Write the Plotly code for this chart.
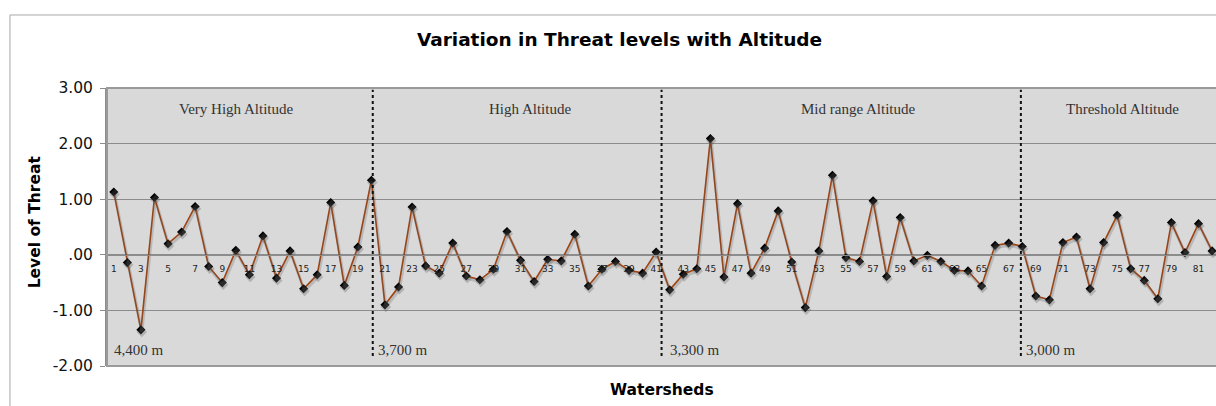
import plotly.graph_objects as go

watersheds = list(range(1, 83))
threat = [1.13, -0.14, -1.35, 1.03, 0.20, 0.41, 0.87, -0.21, -0.50, 0.08,
          -0.36, 0.34, -0.42, 0.07, -0.61, -0.36, 0.94, -0.55, 0.14, 1.34,
          -0.90, -0.58, 0.86, -0.20, -0.33, 0.21, -0.38, -0.45, -0.26, 0.42,
          -0.10, -0.48, -0.08, -0.11, 0.37, -0.56, -0.26, -0.12, -0.28, -0.33, 0.05,
          -0.63, -0.35, -0.25, 2.09, -0.40, 0.92, -0.33, 0.12, 0.79, -0.13,
          -0.95, 0.07, 1.43, -0.05, -0.12, 0.97, -0.39, 0.67, -0.11, -0.01,
          -0.12, -0.28, -0.29, -0.56, 0.17, 0.21, 0.15,
          -0.74, -0.81, 0.22, 0.32, -0.61, 0.22, 0.71, -0.25, -0.46, -0.79,
          0.58, 0.04, 0.56, 0.07]
y_tickvals = [-2, -1, 0, 1, 2, 3]
y_ticktext = ["-2.00", "-1.00", ".00", "1.00", "2.00", "3.00"]
x_label_vals = list(range(1, 83, 2))
x_boundaries = [v + 0.5 for v in range(1, 83)]
zones = ["Very High Altitude", "High Altitude", "Mid range Altitude", "Threshold Altitude"]
zone_centers = [10.0, 31.7, 55.9, 75.4]
altitudes = ["4,400 m", "3,700 m", "3,300 m", "3,000 m"]
altitude_x = [0.9, 20.35, 41.85, 68.15]
dividers = [20.1, 41.4, 67.9]

XR = [0.5, 82.29]
YR = [-2, 3]

fig = go.Figure()
# soft shadow (same data on slightly shifted overlay axes)
fig.add_trace(go.Scatter(x=watersheds, y=threat, mode="lines+markers",
                         xaxis="x3", yaxis="y2",
                         line=dict(color="rgba(90,90,90,0.25)", width=3),
                         marker=dict(symbol="diamond", size=8, color="rgba(90,90,90,0.3)"),
                         hoverinfo="skip", showlegend=False))
fig.add_trace(go.Scatter(x=watersheds, y=threat, mode="lines+markers",
                         line=dict(color="#a3420f", width=1.6),
                         marker=dict(symbol="diamond", size=7, color="#000000"),
                         showlegend=False))

shapes = []
for d in dividers:
    shapes.append(dict(type="line", xref="x", yref="y", x0=d, x1=d, y0=-1.82, y1=2.97,
                       line=dict(color="#111111", width=2, dash="dot")))
# plot area border
shapes.append(dict(type="rect", xref="paper", yref="paper", x0=0, x1=1.01, y0=0, y1=1,
                   line=dict(color="#9a9a9a", width=2), layer="above"))
# outer chart frame
shapes.append(dict(type="rect", xref="paper", yref="paper", x0=-0.0875, x1=1.05, y0=-0.3, y1=1.2626,
                   line=dict(color="#a8a8a8", width=1), layer="below"))

annotations = []
for name, cx in zip(zones, zone_centers):
    annotations.append(dict(text=name, x=cx, y=2.62, xref="x", yref="y", showarrow=False,
                            xanchor="center", yanchor="middle",
                            font=dict(family="Liberation Serif", size=15, color="#333333")))
for name, ax in zip(altitudes, altitude_x):
    annotations.append(dict(text=name, x=ax, y=-1.72, xref="x", yref="y", showarrow=False,
                            xanchor="left", yanchor="middle",
                            font=dict(family="Liberation Serif", size=15, color="#333333")))
annotations.append(dict(text="<b>Watersheds</b>", xref="paper", yref="paper", x=(662 - 106.7) / 1109.3,
                        y=(366 - 390) / 278, showarrow=False, xanchor="center", yanchor="middle",
                        font=dict(family="DejaVu Sans", size=15.5, color="#000000")))
annotations.append(dict(text="<b>Level of Threat</b>", xref="paper", yref="paper", x=(35 - 106.7) / 1109.3,
                        y=(366 - 222) / 278, showarrow=False, textangle=-90, xanchor="center", yanchor="middle",
                        font=dict(family="DejaVu Sans", size=15.5, color="#000000")))

fig.update_layout(
    width=1216, height=406,
    margin=dict(l=107, r=0, t=88, b=40),
    paper_bgcolor="#ffffff", plot_bgcolor="#d9d9d9",
    title=dict(text="<b>Variation in Threat levels with Altitude</b>", x=619.5 / 1216, y=1 - 40 / 406,
               xanchor="center", yanchor="middle",
               font=dict(family="DejaVu Sans", size=18.5, color="#000000")),
    xaxis=dict(range=XR, anchor="free", position=0.4, tickmode="array", tickvals=x_label_vals,
               ticks="", showgrid=False, zeroline=False, showline=True, linecolor="#8c8c8c", linewidth=1,
               ticklabelstandoff=5,
               tickfont=dict(family="DejaVu Sans", size=9, color="#222222")),
    xaxis2=dict(range=XR, overlaying="x", anchor="free", position=0.4, tickmode="array",
                tickvals=x_boundaries, ticks="outside", ticklen=3, tickcolor="#8c8c8c",
                showticklabels=False, showgrid=False, zeroline=False, showline=False),
    xaxis3=dict(range=[XR[0] - 0.07, XR[1] - 0.07], overlaying="x", visible=False),
    yaxis=dict(range=YR, tickmode="array", tickvals=y_tickvals, ticktext=y_ticktext,
               showgrid=True, gridcolor="#8c8c8c", gridwidth=1, zeroline=False,
               showline=True, linecolor="#8c8c8c", linewidth=2,
               ticks="outside", ticklen=5, tickcolor="#8c8c8c", ticklabelstandoff=4,
               tickfont=dict(family="DejaVu Sans", size=15.5, color="#111111")),
    yaxis2=dict(range=[YR[0] + 0.04, YR[1] + 0.04], overlaying="y", visible=False),
    shapes=shapes,
    annotations=annotations,
)

fig.write_html("out.html", config={"displayModeBar": False},
               post_script="document.body.style.margin='0';document.body.style.overflow='hidden';")
